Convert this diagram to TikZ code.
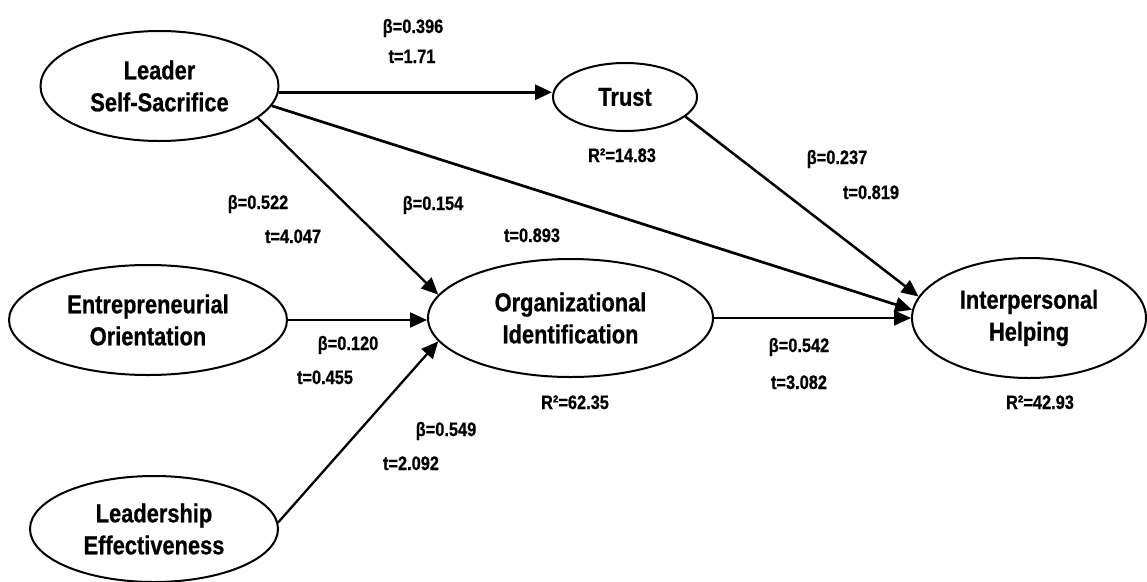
\documentclass[tikz,border=0pt]{standalone}
\usepackage{fontspec}
\setmainfont{Liberation Sans}[FakeStretch=0.84, BoldFeatures={FakeBold=0.7}]
\usetikzlibrary{shapes.geometric,arrows.meta}
\begin{document}
\begin{tikzpicture}[x=1pt,y=-1pt,
  ell/.style={ellipse, draw, line width=2pt, inner sep=0pt, align=center,
    font=\fontsize{26}{32}\selectfont\bfseries},
  lab/.style={anchor=base, inner sep=0pt, font=\fontsize{19.5}{22}\selectfont\bfseries},
  arr/.style={-{Triangle[length=17pt,width=15pt]}, line width=2.3pt}]
\useasboundingbox (0,0) rectangle (1147,581);
% constructs
\node[ell, minimum width=238pt, minimum height=110pt] (lss) at (159.5,86) {Leader\\Self-Sacrifice};
\node[ell, minimum width=144pt, minimum height=68pt] (trust) at (625,97) {Trust};
\node[ell, minimum width=278pt, minimum height=110pt] (entre) at (148,320) {Entrepreneurial\\Orientation};
\node[ell, minimum width=248pt, minimum height=106pt] (le) at (154,529) {Leadership\\Effectiveness};
\node[ell, minimum width=285pt, minimum height=118pt] (org) at (570.5,318) {Organizational\\Identification};
\node[ell, minimum width=234pt, minimum height=120pt] (interp) at (1029,318) {Interpersonal\\Helping};
% paths
\draw[arr, line width=3pt] (lss.-3.4) -- (lss.-3.4 -| trust.west);
\draw[arr, line width=2.7pt] (lss.-10.8) -- (interp.176);
\draw[arr, line width=2.5pt] (trust.-18.2) -- (interp.169.7);
\draw[arr] (lss.-18.2) -- (org.170.4);
\draw[arr] (entre.east) -- (entre.east -| org.west);
\draw[arr] (le.3.3) -- (org.190.8);
\draw[arr, line width=1.8pt] (org.east) -- (org.east -| interp.west);
% labels
\node[lab] (b1) at (413,33) {β=0.396};
\node[lab] (t1) at (412,63) {t=1.71};
\node[lab] (r1) at (622,162) {R²=14.83};
\node[lab] (b2) at (837,164) {β=0.237};
\node[lab] (t2) at (871,199) {t=0.819};
\node[lab] (b3) at (258,209) {β=0.522};
\node[lab] (t3) at (293,243) {t=4.047};
\node[lab] (b4) at (433,210) {β=0.154};
\node[lab] (t4) at (532,242) {t=0.893};
\node[lab] (b5) at (348,350) {β=0.120};
\node[lab] (t5) at (325,384) {t=0.455};
\node[lab] (b6) at (446,436) {β=0.549};
\node[lab] (t6) at (411,470) {t=2.092};
\node[lab] (r2) at (575,409) {R²=62.35};
\node[lab] (b7) at (799,352) {β=0.542};
\node[lab] (t7) at (799,389) {t=3.082};
\node[lab] (r3) at (1040,409) {R²=42.93};
\end{tikzpicture}
\end{document}
